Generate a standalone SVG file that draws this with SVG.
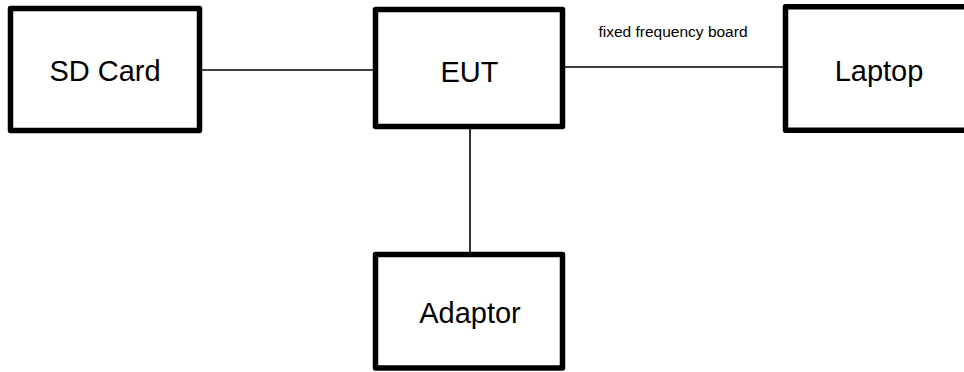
<svg xmlns="http://www.w3.org/2000/svg" width="964" height="372" viewBox="0 0 964 372">
<style>
.box{fill:#fff;stroke:#000;stroke-width:5.5;stroke-linejoin:round}
.lbl{font-family:"Liberation Sans",Arial,sans-serif;font-size:29px;fill:#000;text-anchor:middle}
.small{font-family:"Liberation Sans",Arial,sans-serif;font-size:15.5px;fill:#000;text-anchor:middle}
.conn{stroke:#000;stroke-width:1.6;fill:none}
</style>
<rect width="964" height="372" fill="#fff"/>
<g id="connectors">
<line class="conn" x1="202" y1="70" x2="373" y2="70"/>
<line class="conn" x1="565" y1="67" x2="783" y2="67"/>
<line class="conn" x1="470" y1="129" x2="470" y2="252"/>
<text class="small" x="673" y="37">fixed frequency board</text>
</g>
<g id="sdcard">
<rect class="box" x="10.5" y="8.5" width="189" height="122"/>
<text class="lbl" x="105" y="80.5">SD Card</text>
</g>
<g id="eut">
<rect class="box" x="375.5" y="9.5" width="187" height="117"/>
<text class="lbl" x="469.5" y="82">EUT</text>
</g>
<g id="laptop">
<rect class="box" x="785.5" y="6.8" width="190" height="123.5"/>
<text class="lbl" x="879" y="80.5">Laptop</text>
</g>
<g id="adaptor">
<rect class="box" x="375.5" y="254.5" width="187" height="113.5"/>
<text class="lbl" x="470" y="322.7">Adaptor</text>
</g>
</svg>
